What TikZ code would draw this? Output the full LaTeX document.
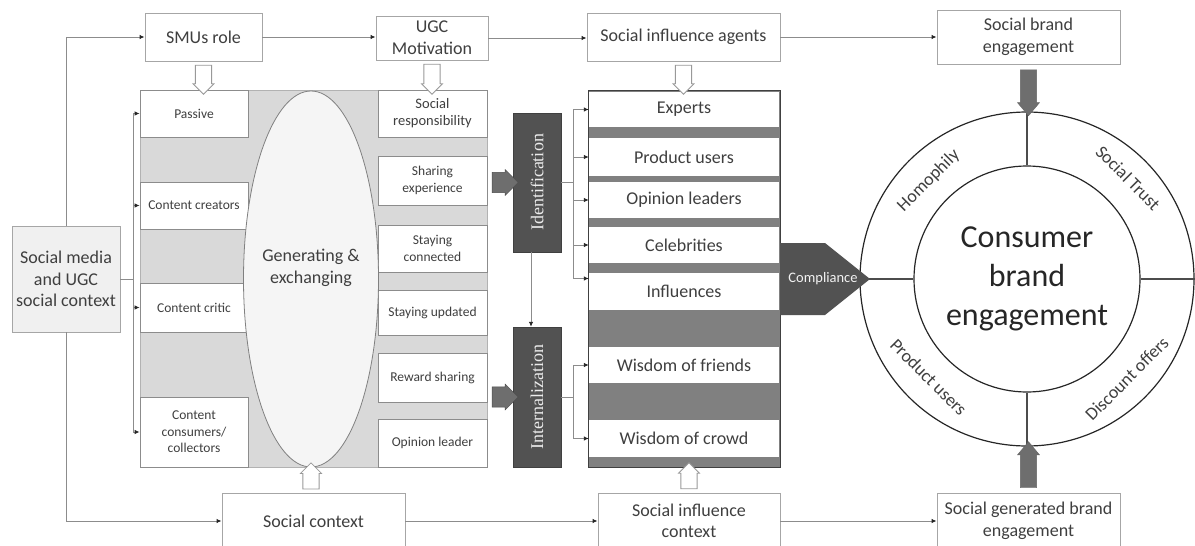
\documentclass[tikz,border=0pt]{standalone}
\usepackage{fontspec}
\setmainfont{Carlito}
\newfontfamily\serifbox{Liberation Serif}
\usetikzlibrary{shapes.geometric,shapes.arrows,arrows.meta,calc}

\definecolor{txtgray}{HTML}{3F3F3F}
\definecolor{linegray}{HTML}{8C8C8C}
\definecolor{panelgray}{HTML}{D9D9D9}
\definecolor{darkbox}{HTML}{525252}
\definecolor{bandgray}{HTML}{808080}
\definecolor{thickgray}{HTML}{6E6E6E}

\newcommand{\fsbig}{\fontsize{18}{21.6}\selectfont}
\newcommand{\fsmid}{\fontsize{14.5}{17}\selectfont}
\newcommand{\fssmall}{\fontsize{13.5}{16.5}\selectfont}
\newcommand{\fshuge}{\fontsize{32}{39}\selectfont}

\tikzset{
  topbox/.style={draw=black!35, line width=0.9pt, fill=white, text=txtgray,
    font=\fsbig, align=center, inner sep=0pt},
  colbox/.style={draw=black!45, line width=0.8pt, fill=white, text=txtgray,
    font=\fssmall, align=center, inner sep=0pt},
  listbox/.style={fill=white, text=txtgray, font=\fsbig, inner sep=0pt,
    minimum width=190pt},
  darkrole/.style={fill=darkbox, draw=black!75, text=black!8,
    font=\serifbox\fontsize{18}{20}\selectfont, inner sep=0pt, minimum width=48pt},
  conn/.style={draw=linegray, line width=0.9pt},
  arr/.style={conn, -{Latex[length=5pt,width=4.5pt,color=black!85]}},
  hollowarrow/.style={single arrow, draw=black!40, line width=0.8pt, fill=white,
    minimum width=21pt, single arrow head extend=2pt, inner xsep=0pt,
    inner ysep=6.5pt, minimum height=#1},
  darkarrow/.style={single arrow, draw=black!70, fill=thickgray, minimum width=26pt,
    single arrow head extend=2pt, inner xsep=0pt, inner ysep=7pt,
    minimum height=26pt},
  greyarrow/.style={single arrow, draw=black!60, fill=thickgray, minimum width=22pt,
    single arrow head extend=2pt, single arrow tip angle=80, inner xsep=0pt,
    inner ysep=5.5pt, minimum height=#1},
  ring/.style={circle, draw=black!85, line width=1.2pt, inner sep=0pt},
  ringlbl/.style={font=\fsbig, text=txtgray, inner sep=0pt},
  spoke/.style={draw=black!70, line width=1.5pt}
}

\begin{document}
\begin{tikzpicture}[x=1pt, y=-1pt]

	\useasboundingbox (0,0) rectangle (1195,546);

	% top and bottom rows
	\node[topbox, minimum width=117pt, minimum height=48pt] (smu) at (203.5,37) {SMUs role};
	\node[topbox, minimum width=112pt, minimum height=44pt] (ugc) at (432,38) {UGC\\Motivation};
	\node[topbox, minimum width=193pt, minimum height=48pt] (sia) at (683.5,37) {Social influence agents};
	\node[topbox, minimum width=183pt, minimum height=54pt] (sbe) at (1028.5,37) {Social brand\\engagement};
	\node[topbox, fill=black!6, minimum width=108pt, minimum height=106pt] (smc) at (66,279) {Social media\\and UGC\\social context};
	\node[topbox, minimum width=183pt, minimum height=56pt] (sctx) at (313.5,521) {Social context};
	\node[topbox, minimum width=182pt, minimum height=56pt] (sic) at (689,521) {Social influence\\context};
	\node[topbox, minimum width=183pt, minimum height=56pt] (sgbe) at (1028.5,521) {Social generated brand\\engagement};

	% user roles and motivations
	\node[draw=black!30, fill=panelgray, minimum width=347pt, minimum height=377pt, inner sep=0pt] (panel) at (313.5,278.5) {};

	\node[colbox, minimum width=108pt, minimum height=47pt] (passive) at (194,113.5) {Passive};
	\node[colbox, minimum width=108pt, minimum height=47pt] (creators) at (194,205.5) {Content creators};
	\node[colbox, minimum width=108pt, minimum height=49pt] (critic) at (194,307.5) {Content critic};
	\node[colbox, minimum width=108pt, minimum height=70pt] (consumers) at (194,432) {Content\\consumers/\\collectors};

	\node[colbox, font=\fsmid, minimum width=109pt, minimum height=47pt] (socresp) at (432.5,113.5) {Social\\responsibility};
	\node[colbox, minimum width=109pt, minimum height=49pt] (sharing) at (432.5,180.5) {Sharing\\experience};
	\node[colbox, minimum width=109pt, minimum height=47pt] (connected) at (432.5,248.5) {Staying\\connected};
	\node[colbox, minimum width=109pt, minimum height=45pt] (updated) at (432.5,312.5) {Staying updated};
	\node[colbox, minimum width=109pt, minimum height=49pt] (reward) at (432.5,377.5) {Reward sharing};
	\node[colbox, minimum width=109pt, minimum height=48pt] (opinion) at (432.5,443) {Opinion leader};

	\node[ellipse, draw=black!50, line width=0.8pt, fill=black!4, minimum width=135pt, minimum height=376pt, inner sep=0pt] (gen) at (311,279) {};
	\node[font=\fsbig, text=txtgray, align=center] (gentxt) at ([yshift=11pt]gen.center) {Generating \&\\exchanging};

	% influence agents
	\node[draw=black!75, fill=bandgray, minimum width=192pt, minimum height=377pt, inner sep=0pt] (list) at (684,278.5) {};
	\node[listbox, minimum height=35pt] (experts) at (684,109.5) {Experts};
	\node[listbox, minimum height=38pt] (produsers) at (684,157) {Product users};
	\node[listbox, minimum height=36pt] (opleaders) at (684,200) {Opinion leaders};
	\node[listbox, minimum height=36pt] (celeb) at (684,245) {Celebrities};
	\node[listbox, minimum height=37pt] (infl) at (684,291.5) {Influences};
	\node[listbox, minimum height=36pt] (wfriends) at (684,365) {Wisdom of friends};
	\node[listbox, minimum height=37pt] (wcrowd) at (684,438.5) {Wisdom of crowd};

	\node[darkrole, minimum height=139pt] (ident) at (537,182.5) {\rotatebox{90}{Identification}};
	\node[darkrole, minimum height=140pt] (intern) at (537,397) {\rotatebox{90}{Internalization}};

	% consumer brand engagement
	\node[ring, minimum size=334pt] (outer) at (1027,279) {};
	\node[ring, minimum size=226pt] (inner) at (1027,279) {};
	\node[font=\fshuge, text=black!85, align=center] (cbe) at (inner.center) {Consumer\\brand\\engagement};

	\draw[spoke] (outer.north) -- (inner.north);
	\draw[spoke] (outer.south) -- (inner.south);
	\draw[spoke] (outer.west) -- (inner.west);
	\draw[spoke] (outer.east) -- (inner.east);

	\node[ringlbl, rotate=45] (homo) at ($(outer.center)+(135:139pt)$) {Homophily};
	\node[ringlbl, rotate=-45] (trust) at ($(outer.center)+(45:143pt)$) {Social Trust};
	\node[ringlbl, rotate=-45] (prod) at ($(outer.center)+(225:139pt)$) {Product users};
	\node[ringlbl, rotate=45] (disc) at ($(outer.center)+(-45:141pt)$) {Discount offers};

	% compliance
	\fill[darkbox] (list.east |- 0,243) -- (825,243) -- (870,279) -- (825,315) -- (list.east |- 0,315) -- cycle;
	\node[text=black!5, font=\fsmid, inner sep=0pt] (compl) at (823,279) {Compliance};

	% connectors
	\draw[arr] (smc.north) |- (smu.west);
	\draw[arr] (smc.south) |- (sctx.west);
	\draw[arr] (smu.east) -- (smu.east -| ugc.west);
	\draw[arr] (ugc.east) -- (ugc.east -| sia.west);
	\draw[arr] (sia.east) -- (sia.east -| sbe.west);
	\draw[arr] (sctx.east) -- (sic.west);
	\draw[arr] (sic.east) -- (sgbe.west);

	\coordinate (lj) at ([xshift=13pt]smc.east);
	\draw[conn] (smc.east) -- (lj);
	\draw[conn] (lj |- passive.west) -- (lj |- consumers.west);
	\draw[arr] (lj |- passive.west) -- (passive.west);
	\draw[arr] (lj |- creators.west) -- (creators.west);
	\draw[arr] (lj |- critic.west) -- (critic.west);
	\draw[arr] (lj |- consumers.west) -- (consumers.west);

	\coordinate (idj) at ([xshift=12pt]ident.east);
	\coordinate (inflpt) at ([yshift=13pt]infl.west);
	\draw[conn] (ident.east) -- (idj);
	\draw[conn] (idj |- experts.west) -- (idj |- inflpt);
	\draw[arr] (idj |- experts.west) -- (experts.west);
	\draw[arr] (idj |- produsers.west) -- (produsers.west);
	\draw[arr] (idj |- opleaders.west) -- (opleaders.west);
	\draw[arr] (idj |- celeb.west) -- (celeb.west);
	\draw[arr] (idj |- inflpt) -- (inflpt);

	\coordinate (inj) at ([xshift=12pt]intern.east);
	\draw[conn] (intern.east) -- (inj);
	\draw[conn] (inj |- wfriends.west) -- (inj |- wcrowd.west);
	\draw[arr] (inj |- wfriends.west) -- (wfriends.west);
	\draw[arr] (inj |- wcrowd.west) -- (wcrowd.west);

	\draw[arr] ([xshift=-6pt]ident.south) -- ([xshift=-6pt]intern.north);

	% block arrows
	\node[hollowarrow=29pt, rotate=-90] (ha1) at ($(smu.south)!.5!(smu.south |- panel.north)$) {};
	\node[hollowarrow=30pt, rotate=-90] (ha2) at ($(ugc.south)!.5!(ugc.south |- panel.north)$) {};
	\node[hollowarrow=29pt, rotate=-90] (ha3) at ($(sia.south)!.5!(sia.south |- list.north)$) {};
	\node[hollowarrow=26pt, rotate=90] (ha4) at ($(gen.south)!.5!(gen.south |- sctx.north)$) {};
	\node[hollowarrow=26pt, rotate=90] (ha5) at ($(sic.north |- list.south)!.5!(sic.north)$) {};

	\node[darkarrow] (da1) at ($(sharing.east |- ident.west)!.5!(ident.west)$) {};
	\node[darkarrow] (da2) at ($(reward.east |- intern.west)!.5!(intern.west)$) {};

	\node[greyarrow=46pt, rotate=-90] (ga1) at ($(sbe.south)!.5!(sbe.south |- outer.north)$) {};
	\node[greyarrow=46pt, rotate=90] (ga2) at ($(sgbe.north |- outer.south)!.5!(sgbe.north)$) {};

\end{tikzpicture}
\end{document}
